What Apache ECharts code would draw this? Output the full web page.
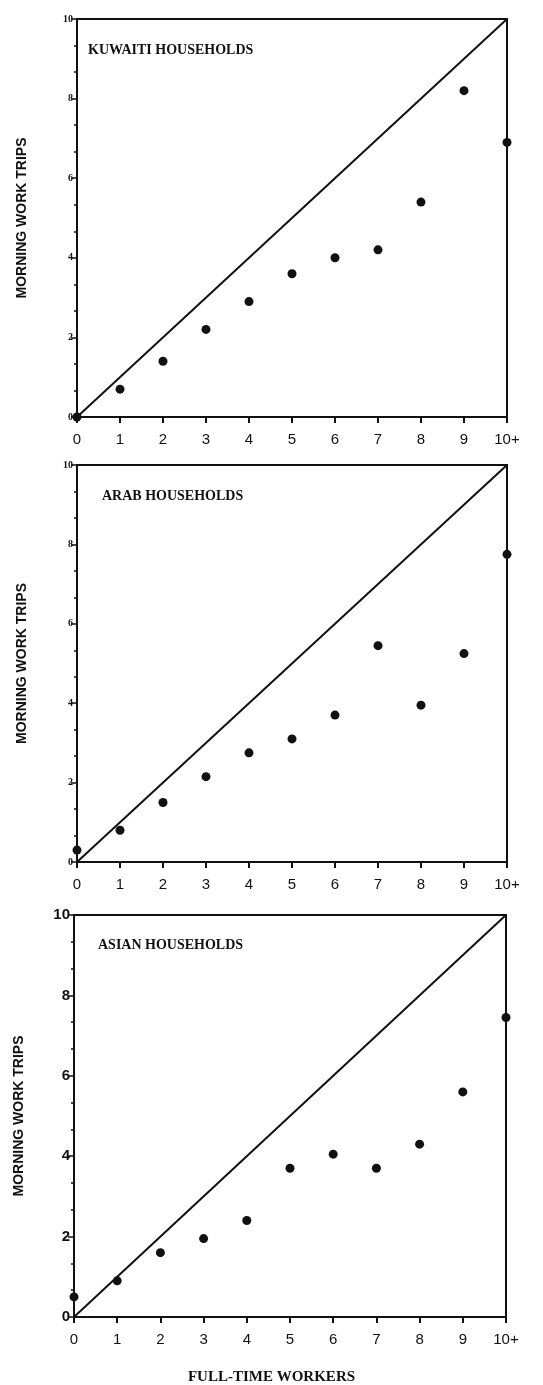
<!DOCTYPE html>
<html lang="en">

<head>
  <meta charset="UTF-8">
  <title>Morning work trips</title>
  <style>
    body { margin: 0; background: #fff; }
    #main { width: 543px; height: 1385px; }
  </style>
</head>

<body>
  <div id="main"></div>
  <script src="https://cdn.jsdelivr.net/npm/echarts@6/dist/echarts.min.js"></script>
  <script>
    const myChart = echarts.init(document.getElementById('main'));

    // full-time workers per household (x positions)
    const workers = [0, 1, 2, 3, 4, 5, 6, 7, 8, 9, 10];
    const xTickLabels = ['0', '1', '2', '3', '4', '5', '6', '7', '8', '9', '10+'];

    // morning work trips
    const kuwaiti = [0, 0.7, 1.4, 2.2, 2.9, 3.6, 4.0, 4.2, 5.4, 8.2, 6.9];
    const arab = [0.3, 0.8, 1.5, 2.15, 2.75, 3.1, 3.7, 5.45, 3.95, 5.25, 7.75];
    const asian = [0.5, 0.9, 1.6, 1.95, 2.4, 3.7, 4.05, 3.7, 4.3, 5.6, 7.45];

    // the 45 degree line
    const equality = [0, 10];

    const panelNames = ['KUWAITI HOUSEHOLDS', 'ARAB HOUSEHOLDS', 'ASIAN HOUSEHOLDS'];
    const panelData = [kuwaiti, arab, asian];

    // grid boxes (pixels) for the three panels
    const grids = [
      { left: 77, right: 36, top: 19, height: 398 },
      { left: 77, right: 36, top: 465, height: 397 },
      { left: 74, right: 37, top: 915, height: 402 }
    ];
    const titlePos = [{ left: 83, top: 38 }, { left: 97, top: 484 }, { left: 93, top: 933 }];
    const yLabelSize = [10, 10, 15];

    const serif = '"Liberation Serif", "DejaVu Serif", serif';
    const sans = '"Liberation Sans", Arial, sans-serif';

    const option = {
      backgroundColor: '#fff',
      animation: false,
      title: panelNames.map((t, i) => ({
        text: t,
        left: titlePos[i].left,
        top: titlePos[i].top,
        textStyle: { fontFamily: serif, fontSize: 14, fontWeight: 'bold', color: '#111' }
      })).concat([{
        text: 'FULL-TIME WORKERS',
        left: 'center',
        top: 1365,
        textStyle: { fontFamily: serif, fontSize: 15, fontWeight: 'bold', color: '#111' }
      }]),
      grid: grids.map(g => Object.assign({ show: true, borderColor: '#111', borderWidth: 2 }, g)),
      xAxis: grids.map((g, i) => ({
        type: 'value',
        gridIndex: i,
        min: 0,
        max: 10,
        interval: 1,
        splitLine: { show: false },
        axisLine: { onZero: false, lineStyle: { color: '#111', width: 2 } },
        axisTick: { length: 6, lineStyle: { color: '#111', width: 2 } },
        axisLabel: {
          margin: 15,
          fontFamily: sans,
          fontSize: 15,
          color: '#111',
          formatter: v => xTickLabels[workers.indexOf(v)]
        }
      })),
      yAxis: grids.map((g, i) => ({
        type: 'value',
        gridIndex: i,
        min: 0,
        max: 10,
        interval: 2,
        name: 'MORNING WORK TRIPS',
        nameLocation: 'middle',
        nameGap: 48,
        nameTextStyle: { fontFamily: sans, fontSize: 14, fontWeight: 'bold', color: '#111' },
        splitLine: { show: false },
        axisLine: { onZero: false, lineStyle: { color: '#111', width: 2 } },
        axisTick: { length: 6, lineStyle: { color: '#111', width: 1.5 } },
        minorTick: { show: true, splitNumber: 3, length: 3, lineStyle: { color: '#111', width: 1.5 } },
        axisLabel: {
          margin: 4,
          fontFamily: i === 2 ? sans : serif,
          fontSize: yLabelSize[i],
          fontWeight: 'bold',
          color: '#111'
        }
      })),
      series: panelData.map((d, i) => ({
        type: 'scatter',
        xAxisIndex: i,
        yAxisIndex: i,
        symbolSize: 9,
        itemStyle: { color: '#111', opacity: 1 },
        data: workers.map((w, k) => [w, d[k]])
      })).concat(grids.map((g, i) => ({
        type: 'line',
        xAxisIndex: i,
        yAxisIndex: i,
        symbol: 'none',
        lineStyle: { color: '#111', width: 2 },
        data: equality.map(v => [v, v])
      })))
    };

    myChart.setOption(option);
  </script>
</body>

</html>
